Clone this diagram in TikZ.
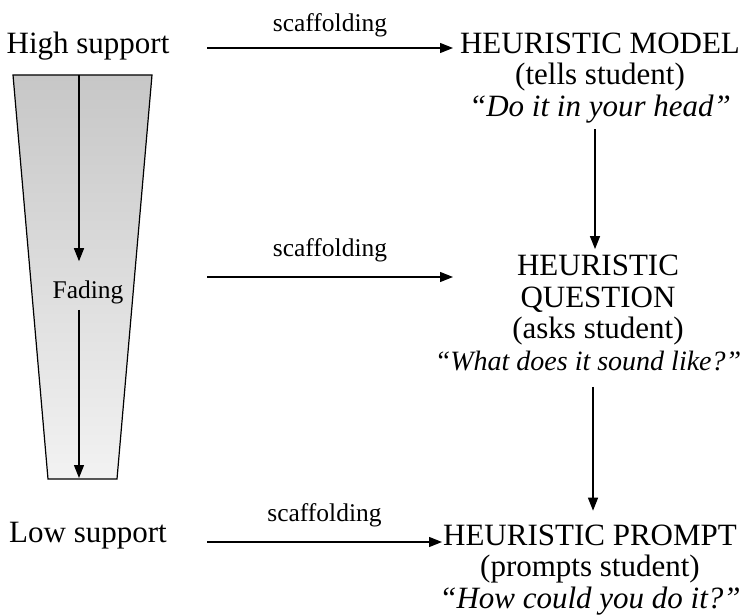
\documentclass[tikz,border=0pt]{standalone}
\usepackage{fontspec}
\setmainfont{Liberation Serif}
\usetikzlibrary{arrows.meta,positioning}

\begin{document}
\begin{tikzpicture}[x=1pt,y=-1pt,
  big/.style={font=\fontsize{31}{31.5}\selectfont,align=center,inner sep=0pt},
  small/.style={font=\fontsize{25.5}{27}\selectfont,inner sep=0pt},
  arr/.style={line width=1.3pt,-{Triangle[length=13pt,width=10pt]}}]
\useasboundingbox (0,0) rectangle (746,615);

% support funnel
\shade[top color=black!22,bottom color=black!5,draw,line width=1.2pt]
  (13,75) -- (152,75) -- (117,479) -- (48,479) -- cycle;
\node[big] (high) at (88,46) {High support};
\node[big] (low) at (88,536) {Low support};
\node[small] (fading) at (88,292) {Fading};
\coordinate (ftop) at (79,75);
\coordinate (fbot) at (79,478);
\draw[arr,shorten >=19pt] (ftop) -- (ftop |- fading.north);
\draw[arr,shorten <=6pt] (ftop |- fading.south) -- (fbot);

% heuristics
\node[big] (model) at (600,78) {HEURISTIC MODEL\\(tells student)\\\textit{“Do it in your head”}};
\node[big] (question) at (598,313) {HEURISTIC\\QUESTION\\(asks student)\\{\fontsize{28}{31.5}\selectfont\kern-20pt\textit{“What does it sound like?”}}};
\node[big] (prompt) at (590,570) {HEURISTIC PROMPT\\(prompts student)\\\textit{“How could you do it?”}};
\draw[arr,shorten <=6pt,shorten >=6pt] ([xshift=-5pt]model.south) -- ([xshift=-5pt]model.south |- question.north);
\draw[arr,shorten <=16pt,shorten >=14pt] ([xshift=-5pt]question.south) -- ([xshift=-5pt]question.south |- prompt.north);

% scaffolding arrows
\coordinate (s1) at (207,48);
\coordinate (e1) at (453,48);
\coordinate (s2) at (207,277);
\coordinate (e2) at (453,277);
\coordinate (s3) at (207,542);
\coordinate (e3) at (442,542);
\draw[arr] (s1) -- (e1) node[small,midway,above=10pt] {scaffolding};
\draw[arr] (s2) -- (e2) node[small,midway,above=14pt] {scaffolding};
\draw[arr] (s3) -- (e3) node[small,midway,above=14pt] {scaffolding};
\end{tikzpicture}
\end{document}
